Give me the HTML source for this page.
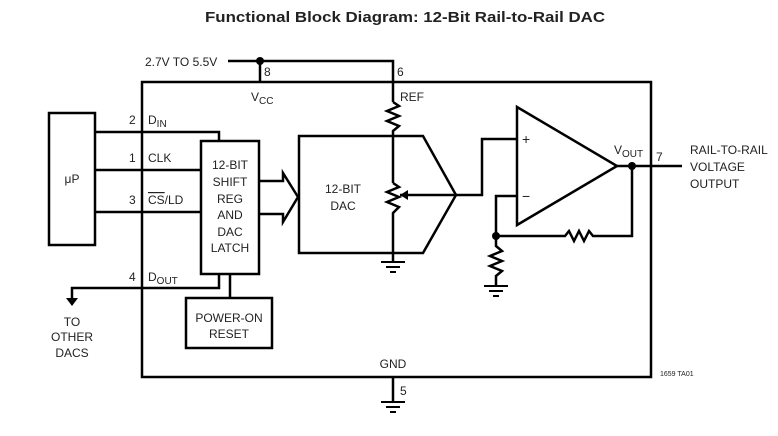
<!DOCTYPE html>
<html><head><style>
body{margin:0;background:#fff}
svg{display:block}
text{font-family:"Liberation Sans",sans-serif;font-size:12px;fill:#222}
</style></head><body>
<svg width="778" height="436" viewBox="0 0 778 436" xmlns="http://www.w3.org/2000/svg">
<text x="405" y="22" text-anchor="middle" style="font-size:15px;font-weight:bold" textLength="400" lengthAdjust="spacingAndGlyphs">Functional Block Diagram: 12-Bit Rail-to-Rail DAC</text>
<g fill="none" stroke="#000" stroke-width="2.5">
<rect x="142" y="82" width="509" height="295"/>
<polyline points="228,61 393,61 393,102"/>
<line x1="260" y1="61" x2="260" y2="82"/>
<polyline points="393,102 399,106 387,111 399,116 387,121 399,126 393,131 393,183"/>
<polyline points="393,183 399,187 387,192 399,197 387,202 399,207 393,213 393,262"/>
<polygon points="299,136 423,136 456,195 423,253 299,253"/>
<rect x="49" y="113" width="46" height="132"/>
<rect x="201" y="141" width="58" height="133"/>
<rect x="186" y="298" width="86" height="50"/>
<polyline points="95,132 219,132 219,141"/>
<line x1="95" y1="170" x2="201" y2="170"/>
<line x1="95" y1="212" x2="201" y2="212"/>
<polyline points="72,300 72,288 219,288 219,274"/>
<line x1="230" y1="274" x2="230" y2="298"/>
<polyline points="259,181 283,181 283,173 298,197 283,222 283,214 259,214"/>
<polygon points="517,107 617,166 517,225"/>
<polyline points="456,195 482,195 482,139 517,139"/>
<polyline points="517,196 496,196 496,236 565,236 569,231 574,241 579,231 584,241 589,231 593,236 632,236 632,166"/>
<polyline points="617,166 682,166"/>
<polyline points="496,236 496,246 502,251 490,256 502,261 490,266 502,271 496,276 496,286"/>
<line x1="393" y1="377" x2="393" y2="402"/>
<line x1="400" y1="195" x2="456" y2="195"/>
</g>
<g stroke="#000" stroke-width="2">
<line x1="381" y1="262" x2="405" y2="262"/><line x1="386" y1="267" x2="400" y2="267"/><line x1="390" y1="272" x2="396" y2="272"/>
<line x1="484" y1="286" x2="508" y2="286"/><line x1="489" y1="291" x2="503" y2="291"/><line x1="493" y1="296" x2="499" y2="296"/>
<line x1="381" y1="402" x2="405" y2="402"/><line x1="386" y1="407" x2="400" y2="407"/><line x1="390" y1="412" x2="396" y2="412"/>
</g>
<polygon points="66,298 78,298 72,306" fill="#000"/>
<polygon points="400,195 408,190 408,200" fill="#000"/>
<circle cx="260" cy="61" r="4"/><circle cx="632" cy="166" r="4"/><circle cx="496" cy="236" r="4"/>
<text x="145" y="66">2.7V TO 5.5V</text>
<text x="264" y="76">8</text><text x="397" y="76">6</text>
<text x="251" y="101">V<tspan style="font-size:10px" dy="3">CC</tspan></text>
<text x="400" y="101">REF</text>
<text x="129" y="124">2</text><text x="148" y="124">D<tspan style="font-size:10px" dy="3">IN</tspan></text>
<text x="129" y="162">1</text><text x="148" y="162">CLK</text>
<text x="129" y="204">3</text><text x="148" y="204"><tspan style="text-decoration:overline">CS</tspan>/LD</text>
<text x="129" y="281">4</text><text x="148" y="281">D<tspan style="font-size:10px" dy="3">OUT</tspan></text>
<text x="72" y="183" text-anchor="middle">μP</text>
<g text-anchor="middle">
<text x="230" y="169">12-BIT</text>
<text x="230" y="186">SHIFT</text><text x="230" y="203">REG</text><text x="230" y="219">AND</text><text x="230" y="236">DAC</text><text x="230" y="252">LATCH</text>
<text x="343" y="193">12-BIT</text><text x="343" y="210">DAC</text>
<text x="229" y="322">POWER-ON</text><text x="229" y="338">RESET</text>
<text x="72" y="326">TO</text><text x="72" y="341">OTHER</text><text x="72" y="357">DACS</text>
<text x="393" y="368">GND</text>
</g>
<text x="400" y="395">5</text>
<text x="614" y="154">V<tspan style="font-size:10px" dy="3">OUT</tspan></text>
<text x="656" y="161">7</text>
<text x="690" y="154">RAIL-TO-RAIL</text><text x="690" y="171">VOLTAGE</text><text x="690" y="188">OUTPUT</text>
<text x="660" y="376" style="font-size:7px">1659 TA01</text>
<text x="522" y="144" style="font-size:14px">+</text><text x="522" y="201" style="font-size:14px">−</text>
</svg>
</body></html>
